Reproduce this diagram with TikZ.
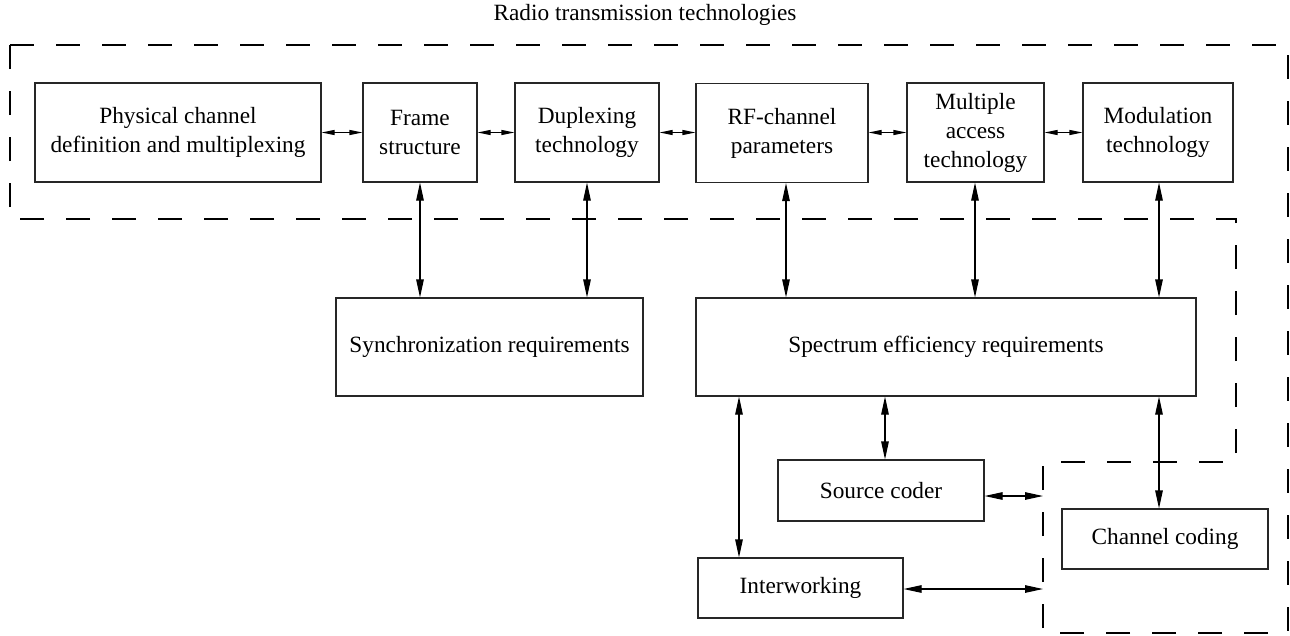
\documentclass[tikz,border=0pt]{standalone}
\usepackage{fontspec}
\setmainfont{Liberation Serif}
\usetikzlibrary{arrows.meta,calc}
\begin{document}
\begin{tikzpicture}[x=1pt,y=-1pt,
  txt/.style={font=\fontsize{23.3}{29}\selectfont,align=center,inner sep=0pt},
  box/.style={txt,draw=black!85,line width=1.1pt},
  sarr/.style={line width=1.1pt,{Triangle[length=13pt,width=5pt]}-{Triangle[length=13pt,width=5pt]}},
  barr/.style={line width=1.1pt,{Triangle[length=18pt,width=7.5pt]}-{Triangle[length=18pt,width=7.5pt]}},
  region/.style={line width=2.7pt,dash pattern=on 24pt off 22pt}
]
\useasboundingbox (0,0) rectangle (1290,635);

\node[txt] (title) at (645,15) {Radio transmission technologies};

\draw[region] (10,45) -- (1288,45) -- (1288,633) -- (1043,633) -- (1043,462)
  -- (1236,462) -- (1236,219) -- (10,219) -- cycle;

% top row
\node[box,minimum width=286pt,minimum height=99pt] (phys) at (178,132.5) {Physical channel\\definition and multiplexing};
\node[box,minimum width=114pt,minimum height=99pt] (frame) at (420,132.5) {Frame\\structure};
\node[box,minimum width=144pt,minimum height=99pt] (dup) at (587,132.5) {Duplexing\\technology};
\node[box,minimum width=172pt,minimum height=99pt] (rf) at (782,133) {RF-channel\\parameters};
\node[box,minimum width=137pt,minimum height=99pt] (mult) at (975.5,132.5) {Multiple\\access\\technology};
\node[box,minimum width=150pt,minimum height=99pt] (mod) at (1158,132.5) {Modulation\\technology};

% middle row
\node[box,minimum width=307pt,minimum height=98pt] (sync) at (489.5,347) {Synchronization requirements};
\node[box,minimum width=500pt,minimum height=98pt] (spec) at (946,347) {Spectrum efficiency requirements};

% bottom
\node[box,minimum width=206pt,minimum height=61pt] (src) at (881,490.5) {Source coder};
\node[box,minimum width=205pt,minimum height=60pt] (inter) at (800.5,588) {Interworking};
\node[box,minimum width=206pt,minimum height=60pt] (chan) at (1165,539) {Channel coding};

\coordinate (srcend) at (1043,496);
\coordinate (interend) at (1043,589);

% horizontal arrows, top row
\draw[sarr] (phys.east) -- (frame.west);
\draw[sarr] (frame.east) -- (dup.west);
\draw[sarr] (dup.east |- 0,132.5) -- (rf.west |- 0,132.5);
\draw[sarr] (rf.east |- 0,132.5) -- (mult.west);
\draw[sarr] (mult.east) -- (mod.west);

% vertical arrows
\draw[barr] (frame.south) -- (frame.south |- sync.north);
\draw[barr] (dup.south) -- (dup.south |- sync.north);
\draw[barr] (786,0 |- rf.south) -- (786,0 |- spec.north);
\draw[barr] (975,0 |- mult.south) -- (975,0 |- spec.north);
\draw[barr] (1159,0 |- mod.south) -- (1159,0 |- spec.north);

\draw[barr] (739,0 |- spec.south) -- (739,0 |- inter.north);
\draw[barr] (885,0 |- spec.south) -- (885,0 |- src.north);
\draw[barr] (1159,0 |- spec.south) -- (1159,0 |- chan.north);

\draw[barr] (src.east |- srcend) -- (srcend);
\draw[barr] (inter.east |- interend) -- (interend);
\end{tikzpicture}
\end{document}
